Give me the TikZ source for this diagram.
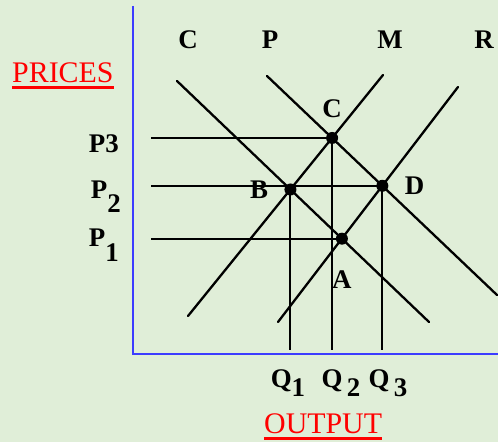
\documentclass[tikz,border=0pt]{standalone}
\usepackage{fontspec}
\setmainfont{Liberation Serif}
\usetikzlibrary{positioning}
\definecolor{bgcol}{RGB}{224,238,216}
\definecolor{axisblue}{RGB}{60,60,255}

\begin{document}
\begin{tikzpicture}[
  x=1bp, y=-1bp,
  axis/.style={draw=axisblue, line width=2.4bp},
  curve/.style={line width=2.3bp, line cap=round},
  guide/.style={line width=1.9bp},
  dot/.style={circle, fill, inner sep=0pt, minimum size=12bp},
  lbl/.style={font=\fontsize{27}{27}\selectfont\bfseries, inner sep=0pt},
  title/.style={text=red, font=\fontsize{30}{30}\selectfont, inner sep=0pt}
]
\fill[bgcol] (0,0) rectangle (498,442);
\useasboundingbox (0,0) rectangle (498,442);

% axes
\coordinate (org) at (133,354);
\coordinate (ytop) at (133,6);
\coordinate (xend) at (498,354);
\draw[axis] (ytop) -- (org) -- (xend);

% curve end points
\coordinate (ctop) at (177,81);  \coordinate (cbot) at (429,322);
\coordinate (ptop) at (267,76);  \coordinate (pbot) at (497,295);
\coordinate (mtop) at (383,75);  \coordinate (mbot) at (188,316);
\coordinate (rtop) at (458,87);  \coordinate (rbot) at (278,322);
\draw[curve] (ctop) -- (cbot);
\draw[curve] (ptop) -- (pbot);
\draw[curve] (mtop) -- (mbot);
\draw[curve] (rtop) -- (rbot);

% curve names
\node[lbl] (nc) at (188,40) {C};
\node[lbl] (np) at (270,40) {P};
\node[lbl] (nm) at (390,40) {M};
\node[lbl] (nr) at (484,40) {R};

% equilibrium points
\coordinate (ptC) at (intersection of mtop--mbot and ptop--pbot);
\coordinate (ptB) at (intersection of mtop--mbot and ctop--cbot);
\coordinate (ptD) at (intersection of rtop--rbot and ptop--pbot);
\coordinate (ptA) at (intersection of rtop--rbot and ctop--cbot);

% guide lines
\coordinate (hl) at (151,0);
\coordinate (vb) at (0,350);
\draw[guide] (hl |- ptC) -- (ptC);
\draw[guide] (hl |- ptD) -- (ptD);
\draw[guide] (hl |- ptA) -- (ptA);
\draw[guide] (ptB) -- (ptB |- vb);
\draw[guide] (ptC) -- (ptC |- vb);
\draw[guide] (ptD) -- (ptD |- vb);

\node[dot] (c) at (ptC) {};
\node[dot] (b) at (ptB) {};
\node[dot] (d) at (ptD) {};
\node[dot] (a) at (ptA) {};
\node[lbl, above=14bp of c] (lc) {C};
\node[lbl, left=16bp of b] (lb) {B};
\node[lbl, right=16bp of d] (ld) {D};
\node[lbl, below=26bp of a] (la) {A};

% axis values
\node[lbl, anchor=base east] (p3) at (119,153) {P3};
\node[lbl, anchor=base east] (p2) at (121,199) {P\raisebox{-0.5em}{2}};
\node[lbl, anchor=base east] (p1) at (119,247) {P\raisebox{-0.55em}{1}};
\node[lbl, anchor=base] (q1) at (288,387) {Q\raisebox{-0.35em}{1}};
\node[lbl, anchor=base] (q2) at (341,387) {Q\raisebox{-0.35em}{\,2}};
\node[lbl, anchor=base] (q3) at (388,387) {Q\raisebox{-0.35em}{\,3}};

% axis titles
\node[title, anchor=base west] (prices) at (12,83) {PRICES};
\draw[red, line width=3bp] ([yshift=-5bp]prices.base west) -- ([yshift=-5bp]prices.base east);
\node[title, anchor=base west] (output) at (264,433) {OUTPUT};
\draw[red, line width=3bp] ([yshift=-5bp]output.base west) -- ([yshift=-5bp]output.base east);
\end{tikzpicture}
\end{document}
